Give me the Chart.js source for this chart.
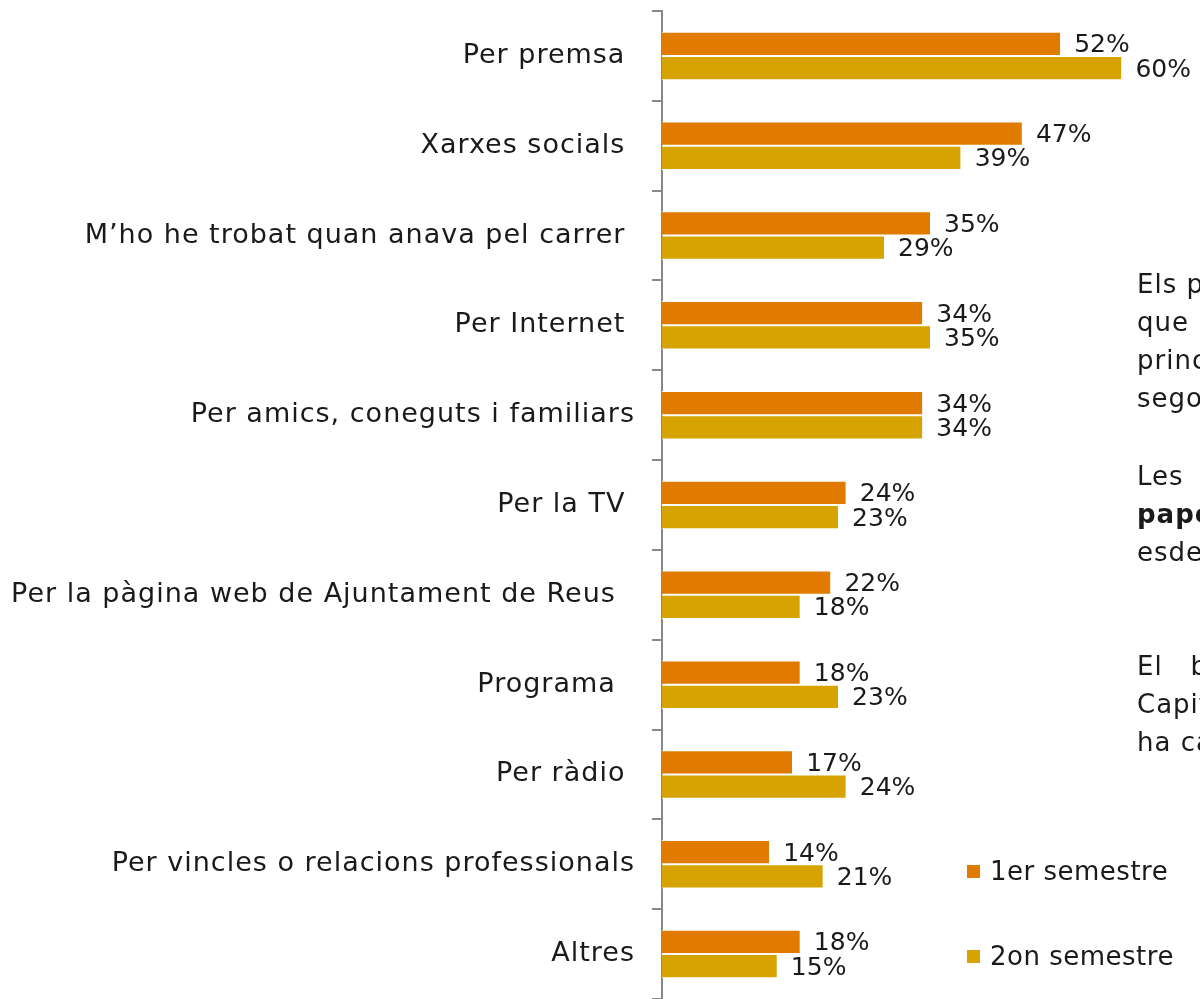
<!DOCTYPE html>
<html>
<head>
<meta charset="utf-8">
<script src="https://cdn.jsdelivr.net/npm/chart.js@4"></script>
<style>
  body { margin: 0; background: #fff; }
  #wrap { position: relative; width: 1200px; height: 999px; overflow: hidden; font-family: "DejaVu Sans", sans-serif; color: #1a1a1a; }
  .side { position: absolute; left: 1137px; font-size: 26px; line-height: 38px; white-space: nowrap; letter-spacing: 1px; }
  .legend { position: absolute; left: 967px; font-size: 26px; white-space: nowrap; letter-spacing: 0.5px; }
  .legend span { display: inline-block; width: 13px; height: 13px; margin-right: 10px; vertical-align: 2px; }
</style>
</head>
<body>
<div id="wrap">
  <canvas id="media" width="1200" height="999"></canvas>
  <div class="side" style="top:265px">
    <div>Els principals canals</div>
    <div>que han funcionat</div>
    <div>principalment</div>
    <div>segons</div>
  </div>
  <div class="side" style="top:457px">
    <div>Les</div>
    <div><b>paper</b></div>
    <div>esdeveniments</div>
  </div>
  <div class="side" style="top:647px">
    <div>El&nbsp;&nbsp;&nbsp;balanç</div>
    <div>Capital</div>
    <div>ha canviat</div>
  </div>
  <div class="legend" style="top:856px"><span style="background:#e07b00"></span>1er semestre</div>
  <div class="legend" style="top:941px"><span style="background:#d6a300"></span>2on semestre</div>
</div>
<script>
var categories = [
  "Per premsa ",
  "Xarxes socials ",
  "M’ho he trobat quan anava pel carrer ",
  "Per Internet ",
  "Per amics, coneguts i familiars",
  "Per la TV ",
  "Per la pàgina web de Ajuntament de Reus  ",
  "Programa  ",
  "Per ràdio ",
  "Per vincles o relacions professionals",
  "Altres"
]
var semestre1 = [52, 47, 35, 34, 34, 24, 22, 18, 17, 14, 18]
var semestre2 = [60, 39, 29, 35, 34, 23, 18, 23, 24, 21, 15]

// wider spacing for the category labels, a bit like Century Gothic
var spacing = {
  id: 'spacing',
  beforeUpdate(chart) { chart.ctx.letterSpacing = '1px' },
  beforeDraw(chart) { chart.ctx.letterSpacing = '1px' }
}

var valueLabels = {
  id: 'valueLabels',
  afterDatasetsDraw(chart) {
    var ctx = chart.ctx
    ctx.save()
    ctx.letterSpacing = '0px'
    ctx.font = '25px "DejaVu Sans", sans-serif'
    ctx.fillStyle = '#1a1a1a'
    ctx.textBaseline = 'middle'
    chart.data.datasets.forEach(function (ds, i) {
      chart.getDatasetMeta(i).data.forEach(function (bar, j) {
        ctx.fillText(ds.data[j] + '%', bar.x + 14, bar.y + 2)
      })
    })
    ctx.restore()
  }
}

new Chart('media', {
  type: 'bar',
  data: {
    labels: categories,
    datasets: [{
      label: '1er semestre',
      data: semestre1,
      backgroundColor: '#e07b00',
      borderColor: '#ffffff',
      borderWidth: {top: 1, bottom: 1, left: 0, right: 0},
      borderSkipped: false,
      barPercentage: 1,
      categoryPercentage: 0.54
    }, {
      label: '2on semestre',
      data: semestre2,
      backgroundColor: '#d6a300',
      borderColor: '#ffffff',
      borderWidth: {top: 1, bottom: 1, left: 0, right: 0},
      borderSkipped: false,
      barPercentage: 1,
      categoryPercentage: 0.54
    }]
  },
  options: {
    indexAxis: 'y',
    responsive: false,
    animation: false,
    layout: { padding: { top: 11, right: 2, bottom: 0, left: 0 } },
    plugins: {
      legend: { display: false },
      tooltip: { enabled: false }
    },
    scales: {
      x: { display: false, min: 0, max: 70 },
      y: {
        afterFit: function (scale) {
          scale.width = 662
          scale.paddingTop = 0
          scale.paddingBottom = 0
        },
        grid: {
          offset: true,
          drawOnChartArea: false,
          drawTicks: true,
          tickLength: 10,
          color: '#888',
          lineWidth: 2
        },
        border: { display: true, color: '#888', width: 2 },
        ticks: {
          padding: 17,
          color: '#1a1a1a',
          font: { family: 'DejaVu Sans', size: 27 }
        }
      }
    }
  },
  plugins: [spacing, valueLabels]
})
</script>
</body>
</html>
